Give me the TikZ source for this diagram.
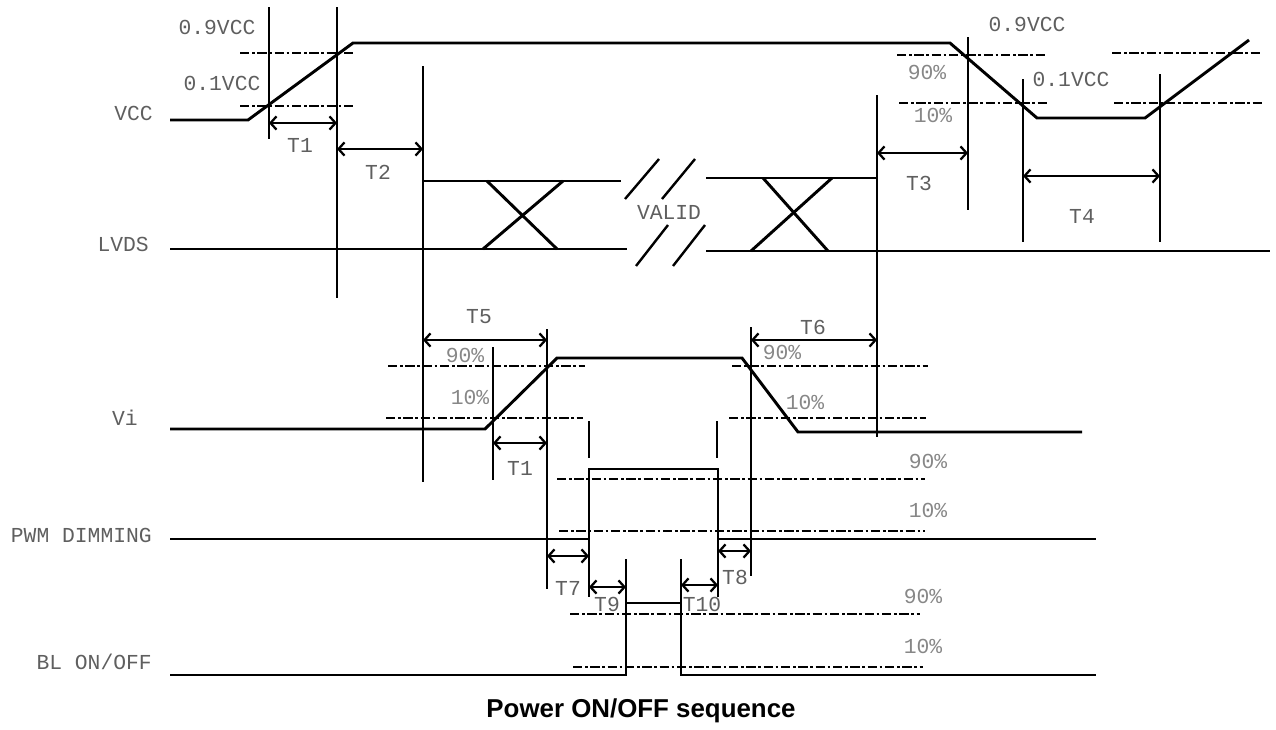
\documentclass[tikz,border=0pt]{standalone}
\usepackage{fontspec}
\setmainfont{Liberation Sans}
\setmonofont{Liberation Mono}
\usetikzlibrary{arrows.meta}
\definecolor{lbl}{RGB}{95,95,95}
\definecolor{pct}{RGB}{135,135,135}
\tikzset{
  sig/.style={line width=2.2pt, line join=miter},
  vbar/.style={line width=2.2pt},
  lvl/.style={line width=2.2pt, dash pattern=on 7pt off 2pt on 2pt off 2pt},
  dim/.style={line width=1.7pt, {Straight Barb[length=4.5pt,width=10pt]}-{Straight Barb[length=4.5pt,width=10pt]}},
  lab/.style={font=\ttfamily\fontsize{16}{16}\selectfont, text=lbl, inner sep=0pt},
  pc/.style={font=\ttfamily\fontsize{16}{16}\selectfont, text=pct, inner sep=0pt},
  signame/.style={font=\ttfamily\fontsize{16}{16}\selectfont, text=lbl, inner sep=0pt, anchor=east},
}
\begin{document}
\begin{tikzpicture}[x=0.75pt,y=-0.75pt]
\useasboundingbox (0,0) rectangle (1276,729);

% ---------- signal names ----------
\node[signame] (nVCC) at (153,113) {VCC};
\node[signame] (nLVDS) at (149,244) {LVDS};
\node[signame] (nVi) at (138,418) {Vi};
\node[signame] (nPWM) at (152,535) {PWM DIMMING};
\node[signame] (nBL) at (152,662) {BL ON/OFF};

% ---------- VCC ----------
\draw[sig] (170,120) -- (248,120) -- (353,43) -- (950,43) -- (1037,118) -- (1145,118) -- (1249,40);
\draw[lvl] (240,53) -- (353,53);
\draw[lvl] (240,106) -- (353,106);
\draw[lvl] (897,55) -- (1047,55);
\draw[lvl] (899,103) -- (1049,103);
\draw[lvl] (1112,53) -- (1262,53);
\draw[lvl] (1114,103) -- (1264,103);

\draw[vbar] (269,7) -- (269,139);
\draw[vbar] (337,7) -- (337,298);
\draw[vbar] (423,66) -- (423,482);
\draw[vbar] (877,95) -- (877,437);
\draw[vbar] (968,37) -- (968,210);
\draw[vbar] (1023,79) -- (1023,242);
\draw[vbar] (1160,74) -- (1160,242);

\node[lab] (l09a) at (217,27) {0.9VCC};
\node[lab] (l01a) at (222,83) {0.1VCC};
\node[lab] (l09b) at (1027,24) {0.9VCC};
\node[lab] (l01b) at (1071,79) {0.1VCC};
\node[pc] (p90a) at (927,72) {90\%};
\node[pc] (p10a) at (933,115) {10\%};

\draw[dim] (269,123) -- (337,123);
\node[lab] (lT1a) at (300,145) {T1};
\draw[dim] (337,149) -- (423,149);
\node[lab] (lT2) at (378,172) {T2};
\draw[dim] (877,153) -- (968,153);
\node[lab] (lT3) at (919,183) {T3};
\draw[dim] (1023,176) -- (1160,176);
\node[lab] (lT4) at (1082,216) {T4};

% ---------- LVDS ----------
\draw[sig] (170,249) -- (627,249);
\draw[sig] (423,181) -- (621,181);
\draw[sig] (487,181) -- (557,249);
\draw[sig] (563,181) -- (483,249);
\draw[sig] (706,178) -- (877,178);
\draw[sig] (706,251) -- (1270,251);
\draw[sig] (763,178) -- (828,251);
\draw[sig] (832,178) -- (751,251);
\draw[line width=1.8pt] (625,199) -- (659,159);
\draw[line width=1.8pt] (662,199) -- (695,159);
\draw[line width=1.8pt] (636,266) -- (668,225);
\draw[line width=1.8pt] (673,266) -- (705,225);
\node[lab] (lValid) at (669,212) {VALID};

% ---------- Vi ----------
\draw[sig] (170,429) -- (485,429) -- (557,358) -- (742,358) -- (798,432) -- (1082,432);
\draw[lvl] (388,366) -- (585,366);
\draw[lvl] (386,418) -- (583,418);
\draw[lvl] (732,366) -- (928,366);
\draw[lvl] (729,418) -- (926,418);
\draw[vbar] (493,347) -- (493,480);
\draw[vbar] (547,329) -- (547,589);
\draw[vbar] (751,327) -- (751,576);
\draw[vbar] (589,421) -- (589,458);
\draw[vbar] (717,421) -- (717,458);

\draw[dim] (423,340) -- (547,340);
\node[lab] (lT5) at (479,317) {T5};
\draw[dim] (751,340) -- (877,340);
\node[lab] (lT6) at (813,327) {T6};
\draw[dim] (493,443) -- (547,443);
\node[lab] (lT1b) at (520,468) {T1};
\node[pc] (p90b) at (465,355) {90\%};
\node[pc] (p10b) at (470,397) {10\%};
\node[pc] (p90c) at (782,352) {90\%};
\node[pc] (p10c) at (805,402) {10\%};

% ---------- PWM DIMMING ----------
\draw[sig] (170,539) -- (589,539) -- (589,469) -- (718,469) -- (718,539) -- (1096,539);
\draw[lvl] (557,479) -- (925,479);
\draw[lvl] (559,531) -- (925,531);
\draw[vbar] (589,539) -- (589,597);
\draw[vbar] (718,539) -- (718,597);
\node[pc] (p90d) at (928,461) {90\%};
\node[pc] (p10d) at (928,510) {10\%};
\draw[dim] (547,556) -- (589,556);
\node[lab] (lT7) at (568,588) {T7};
\draw[dim] (718,551) -- (751,551);
\node[lab] (lT8) at (735,577) {T8};

% ---------- BL ON/OFF ----------
\draw[sig] (170,675) -- (626,675) -- (626,603) -- (681,603) -- (681,675) -- (1096,675);
\draw[lvl] (570,614) -- (920,614);
\draw[lvl] (573,667) -- (923,667);
\draw[vbar] (626,559) -- (626,603);
\draw[vbar] (681,559) -- (681,603);
\draw[dim] (589,587) -- (626,587);
\node[lab] (lT9) at (607,604) {T9};
\draw[dim] (681,585) -- (718,585);
\node[lab] (lT10) at (702,604) {T10};
\node[pc] (p90e) at (923,596) {90\%};
\node[pc] (p10e) at (923,646) {10\%};

% ---------- title ----------
\node[font=\bfseries\fontsize{19.4}{22}\selectfont, inner sep=0pt] (title) at (641,711) {Power ON/OFF sequence};
\end{tikzpicture}
\end{document}
